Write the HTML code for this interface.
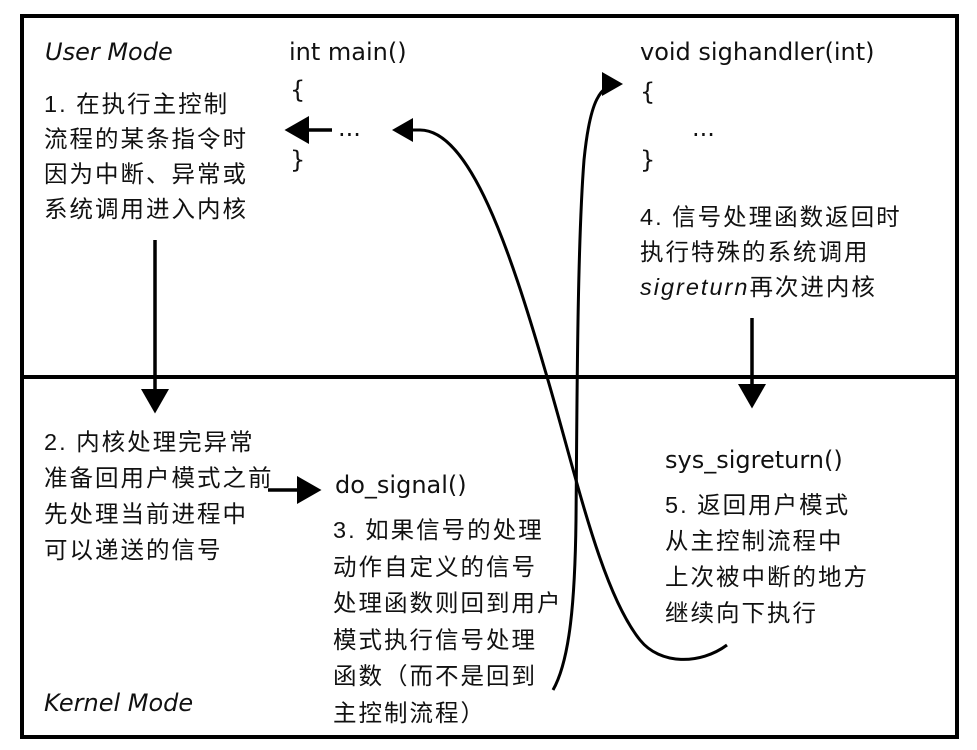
<!DOCTYPE html>
<html><head><meta charset="utf-8"><style>
html,body{margin:0;padding:0;background:#fff;}
body{width:977px;height:750px;position:relative;overflow:hidden;font-family:"DejaVu Sans","Liberation Sans","Noto Sans CJK SC",sans-serif;color:#111;}
.t{position:absolute;font-size:24px;line-height:26px;white-space:nowrap;}
.c{font-family:"Liberation Sans","Noto Sans CJK SC",sans-serif;font-size:23.5px;letter-spacing:2px;}
i{font-style:italic;}
</style></head><body>
<svg width="977" height="750" style="position:absolute;left:0;top:0">
<defs><marker id="a" markerWidth="8" markerHeight="8" refX="6" refY="4" orient="auto" markerUnits="strokeWidth"><path d="M0,0 L7,4 L0,8z" fill="#000"/></marker></defs>
<rect x="22" y="16" width="935" height="721" fill="none" stroke="#000" stroke-width="4"/>
<line x1="22" y1="377" x2="957" y2="377" stroke="#000" stroke-width="4"/>
<line x1="155" y1="240" x2="155" y2="410" stroke="#000" stroke-width="3.5" marker-end="url(#a)"/>
<line x1="752" y1="318" x2="752" y2="405" stroke="#000" stroke-width="3.5" marker-end="url(#a)"/>
<line x1="332" y1="130" x2="288" y2="130" stroke="#000" stroke-width="3.5" marker-end="url(#a)"/>
<line x1="268" y1="490" x2="318" y2="490" stroke="#000" stroke-width="3.5" marker-end="url(#a)"/>
<path d="M553,690 C570,660 575,600 576,520 C577,420 577,250 584,160 C590,100 600,84 620,84" fill="none" stroke="#000" stroke-width="3" marker-end="url(#a)"/>
<path d="M727,645 C700,665 660,665 640,640 C600,590 575,470 545,370 C510,250 470,130 420,130 L395,130" fill="none" stroke="#000" stroke-width="3" marker-end="url(#a)"/>
</svg>
<div class="t" style="left:45px;top:39px"><i>User Mode</i></div>
<div class="t" style="left:289px;top:39px">int main()</div>
<div class="t" style="left:290px;top:77px">{</div>
<div class="t" style="left:338px;top:115px">...</div>
<div class="t" style="left:290px;top:147px">}</div>
<div class="t c" style="left:44px;top:87px;line-height:35px">1. 在执行主控制<br>流程的某条指令时<br>因为中断、异常或<br>系统调用进入内核</div>
<div class="t" style="left:640px;top:39px">void sighandler(int)</div>
<div class="t" style="left:640px;top:79px">{</div>
<div class="t" style="left:692px;top:115px">...</div>
<div class="t" style="left:640px;top:147px">}</div>
<div class="t c" style="left:640px;top:200px;line-height:35px">4. 信号处理函数返回时<br>执行特殊的系统调用<br><i>sigreturn</i>再次进内核</div>
<div class="t" style="left:665px;top:447px">sys_sigreturn()</div>
<div class="t c" style="left:665px;top:487px;line-height:36px">5. 返回用户模式<br>从主控制流程中<br>上次被中断的地方<br>继续向下执行</div>
<div class="t c" style="left:44px;top:424px;line-height:36px">2. 内核处理完异常<br>准备回用户模式之前<br>先处理当前进程中<br>可以递送的信号</div>
<div class="t" style="left:335px;top:472px">do_signal()</div>
<div class="t c" style="left:333px;top:512px;line-height:36.5px">3. 如果信号的处理<br>动作自定义的信号<br>处理函数则回到用户<br>模式执行信号处理<br>函数（而不是回到<br>主控制流程）</div>
<div class="t" style="left:44px;top:690px"><i>Kernel Mode</i></div>
</body></html>
